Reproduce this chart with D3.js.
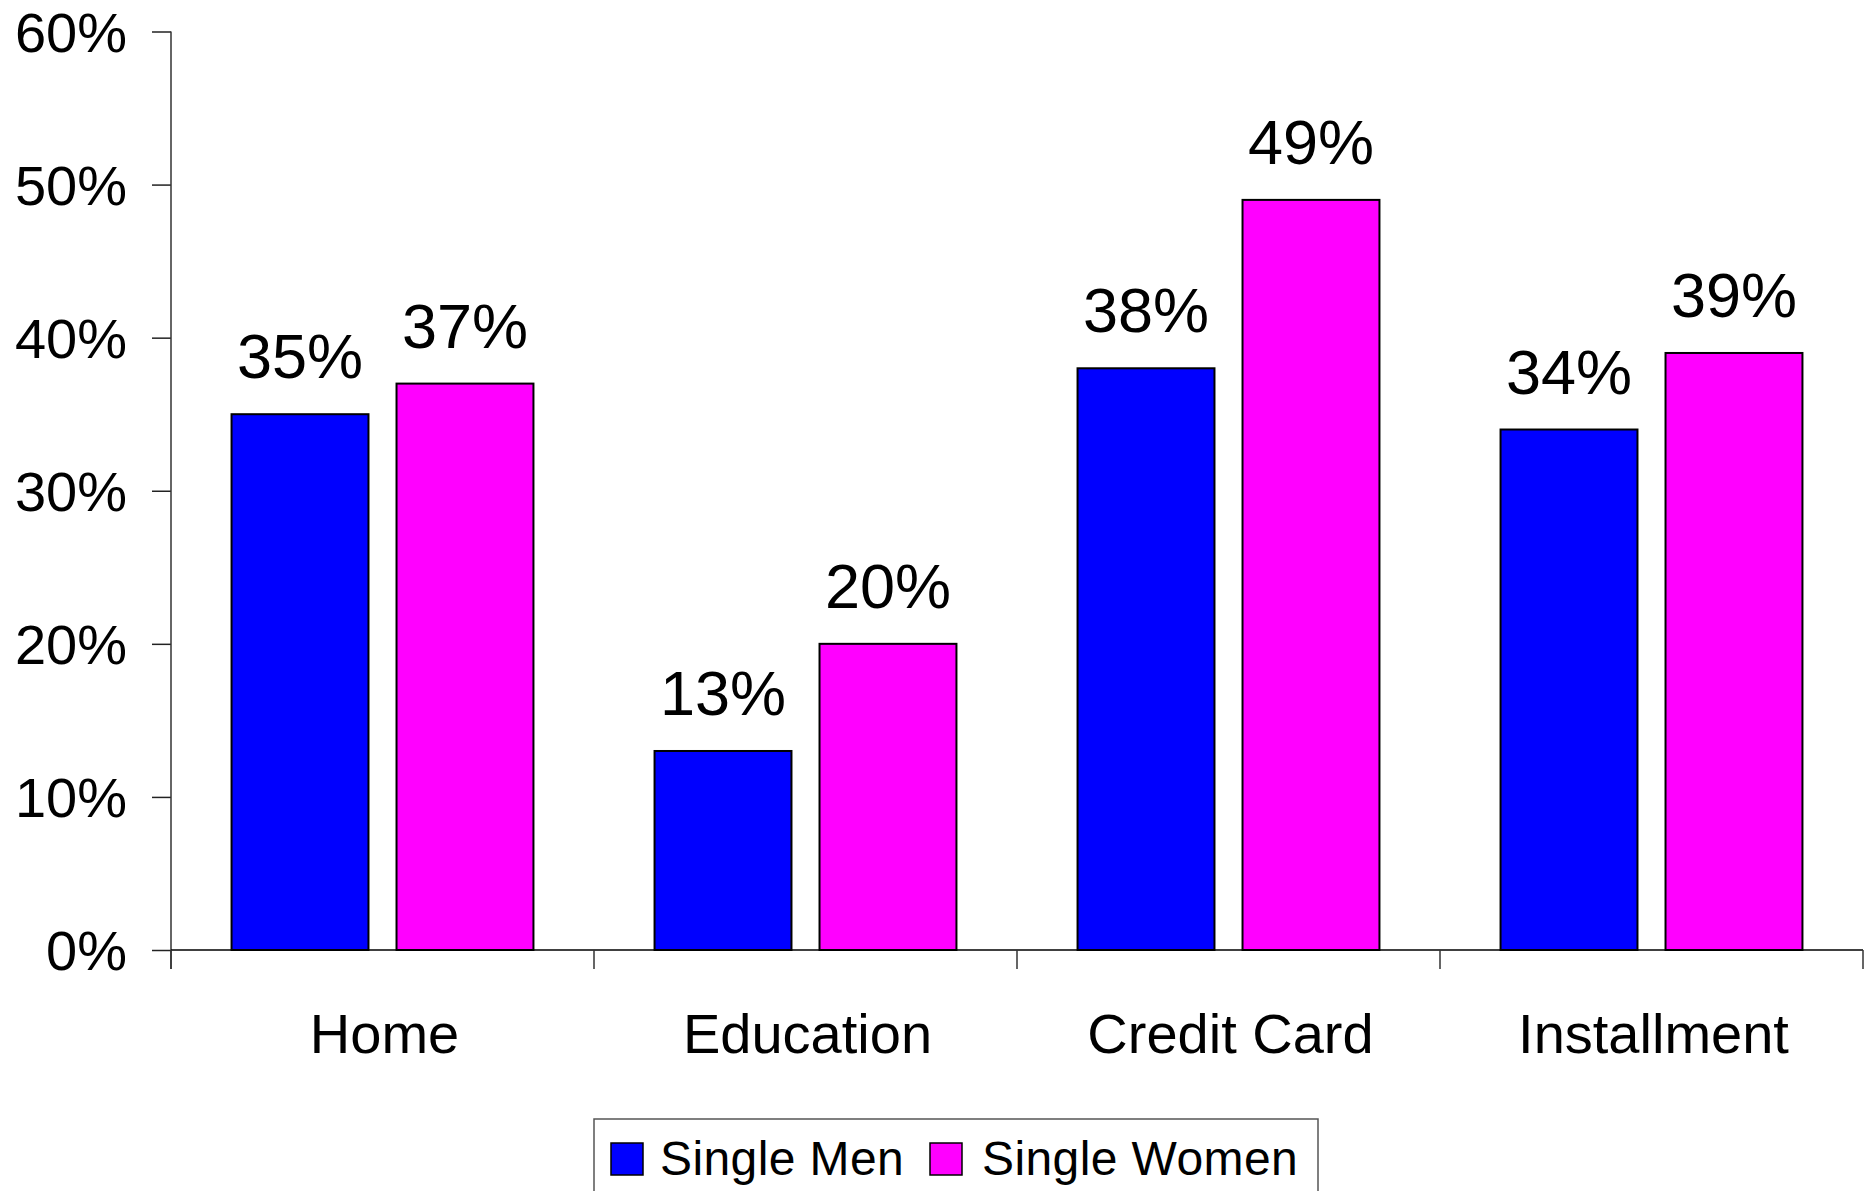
<!DOCTYPE html>
<html>
<head>
<meta charset="utf-8">
<script src="https://cdn.jsdelivr.net/npm/d3@7"></script>
<style>
  html, body { margin: 0; padding: 0; background: #fff; }
  svg { display: block; font-family: "Liberation Sans", Arial, sans-serif; }
</style>
</head>
<body>
<svg id="chart" width="1868" height="1191"></svg>
<script>
// Debt share by loan type, single men vs single women
const categories = ["Home", "Education", "Credit Card", "Installment"];
const seriesNames = ["Single Men", "Single Women"];
const singleMen = [35, 13, 38, 34];
const singleWomen = [37, 20, 49, 39];
const yTicks = [0, 10, 20, 30, 40, 50, 60];
const seriesColors = ["#0000ff", "#ff00ff"];

const seriesValues = [singleMen, singleWomen];
const rows = categories.map((c, i) => ({
  category: c,
  values: seriesNames.map((s, j) => ({ series: s, value: seriesValues[j][i], color: seriesColors[j] }))
}));

const svg = d3.select("#chart");
const plot = { left: 171, right: 1863, top: 31.5, bottom: 950 };

const x0 = d3.scaleBand().domain(categories).range([plot.left, plot.right]).paddingInner(0).paddingOuter(0);
const x1 = d3.scaleBand().domain(seriesNames).range([0, x0.bandwidth()]).paddingInner(0.17).paddingOuter(0.367);
const y = d3.scaleLinear().domain([0, 60]).range([plot.bottom, plot.top]);

// Bars
const groups = svg.append("g").selectAll("g").data(rows).join("g")
  .attr("transform", d => `translate(${x0(d.category)},0)`);

groups.selectAll("rect").data(d => d.values).join("rect")
  .attr("x", d => x1(d.series))
  .attr("y", d => y(d.value))
  .attr("width", x1.bandwidth())
  .attr("height", d => y(0) - y(d.value))
  .attr("fill", d => d.color)
  .attr("stroke", "#000")
  .attr("stroke-width", 2);

// Value labels
groups.selectAll("text").data(d => d.values).join("text")
  .attr("x", d => x1(d.series) + x1.bandwidth() / 2)
  .attr("y", d => y(d.value) - 36)
  .attr("text-anchor", "middle")
  .attr("font-size", 63)
  .attr("fill", "#000")
  .text(d => d.value + "%");

// Y axis
const yAxis = d3.axisLeft(y).tickValues(yTicks).tickSize(19).tickPadding(25).tickFormat(d => d + "%");
const gy = svg.append("g").attr("transform", `translate(${plot.left},0)`).call(yAxis);
gy.select(".domain").remove();
gy.selectAll(".tick line").attr("stroke", "#222").attr("stroke-width", 1.5);
gy.selectAll(".tick text").attr("font-size", 56).attr("fill", "#000")
  .attr("font-family", "'Liberation Sans', Arial, sans-serif").attr("dy", "0.35em");
svg.append("line")
  .attr("x1", plot.left).attr("x2", plot.left)
  .attr("y1", plot.top).attr("y2", plot.bottom + 19)
  .attr("stroke", "#333").attr("stroke-width", 1.5);

// X axis with boundary ticks between categories
svg.append("line")
  .attr("x1", plot.left).attr("x2", plot.right)
  .attr("y1", plot.bottom).attr("y2", plot.bottom)
  .attr("stroke", "#000").attr("stroke-width", 1.5);
const boundaries = categories.map(c => x0(c)).concat([x0.range()[1]]);
svg.append("g").selectAll("line").data(boundaries).join("line")
  .attr("x1", d => d).attr("x2", d => d)
  .attr("y1", plot.bottom).attr("y2", plot.bottom + 19)
  .attr("stroke", "#333").attr("stroke-width", 1.5);
svg.append("g").selectAll("text").data(categories).join("text")
  .attr("x", d => x0(d) + x0.bandwidth() / 2 + 2)
  .attr("y", 1053)
  .attr("text-anchor", "middle")
  .attr("font-size", 56)
  .attr("fill", "#000")
  .text(d => d);

// Legend
const legend = svg.append("g");
legend.append("rect")
  .attr("x", 594).attr("y", 1119).attr("width", 724).attr("height", 100)
  .attr("fill", "#fff").attr("stroke", "#555").attr("stroke-width", 1.5);
const legendItems = [
  { name: seriesNames[0], color: seriesColors[0], sx: 611, tx: 660 },
  { name: seriesNames[1], color: seriesColors[1], sx: 930, tx: 982 }
];
legend.selectAll(".sw").data(legendItems).join("rect")
  .attr("class", "sw")
  .attr("x", d => d.sx).attr("y", 1143).attr("width", 32).attr("height", 32)
  .attr("fill", d => d.color).attr("stroke", "#000").attr("stroke-width", 1.5);
legend.selectAll("text").data(legendItems).join("text")
  .attr("x", d => d.tx).attr("y", 1175)
  .attr("font-size", 48)
  .attr("letter-spacing", 0.4)
  .attr("fill", "#000")
  .text(d => d.name);
</script>
</body>
</html>
